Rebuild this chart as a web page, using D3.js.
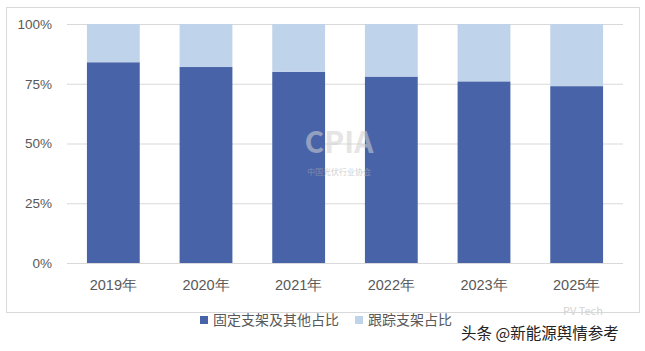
<!DOCTYPE html>
<html>
<head>
<meta charset="utf-8">
<script src="https://cdn.jsdelivr.net/npm/d3@7"></script>
<style>
  body { margin: 0; background: #fff; }
  svg { display: block; font-family: "Noto Sans CJK SC", "Open Sans", sans-serif; }
</style>
</head>
<body>
<svg id="chart" width="645" height="351"></svg>
<script>
    // data
    var years = ["2019年", "2020年", "2021年", "2022年", "2023年", "2025年"];
    var fixedShare = [84, 82, 80, 78, 76, 74];
    var trackerShare = [16, 18, 20, 22, 24, 26];
    var seriesNames = ["固定支架及其他占比", "跟踪支架占比"];
    var yTicks = [0, 25, 50, 75, 100];

    var colors = ["#4863a8", "#bfd3ea"];

    var svg = d3.select("#chart");
    var margin = {left: 67, right: 22, top: 24, bottom: 88};
    var width = 645, height = 351;

    // frame
    svg.append("rect")
        .attr("x", 6.5).attr("y", 7.5)
        .attr("width", 633).attr("height", 305)
        .attr("fill", "none")
        .attr("stroke", "#d9d9d9");

    var x = d3.scaleBand()
        .domain(years)
        .range([margin.left, width - margin.right])
        .paddingInner(0.43)
        .paddingOuter(0.215);

    var y = d3.scaleLinear()
        .domain([0, 100])
        .range([height - margin.bottom, margin.top]);

    // gridlines
    svg.append("g")
        .selectAll("line")
        .data(yTicks)
        .enter().append("line")
        .attr("x1", margin.left)
        .attr("x2", width - margin.right)
        .attr("y1", function (d) { return y(d) + 0.5; })
        .attr("y2", function (d) { return y(d) + 0.5; })
        .attr("stroke", "#d9d9d9");

    // stacked bars
    var rows = years.map(function (yr, i) {
        return {year: yr, fixed: fixedShare[i], tracker: trackerShare[i]};
    });
    var stack = d3.stack().keys(["fixed", "tracker"]);
    var layers = stack(rows);

    svg.append("g")
        .selectAll("g")
        .data(layers)
        .enter().append("g")
        .attr("fill", function (d, i) { return colors[i]; })
        .selectAll("rect")
        .data(function (d) { return d; })
        .enter().append("rect")
        .attr("x", function (d) { return x(d.data.year); })
        .attr("width", x.bandwidth())
        .attr("y", function (d) { return y(d[1]); })
        .attr("height", function (d) { return y(d[0]) - y(d[1]); });

    // y axis labels
    var yAxis = d3.axisLeft(y)
        .tickValues(yTicks)
        .tickSize(0)
        .tickPadding(15)
        .tickFormat(function (d) { return d + "%"; });
    var gy = svg.append("g")
        .attr("transform", "translate(" + margin.left + ",0)")
        .call(yAxis);
    gy.select(".domain").remove();
    gy.selectAll("text")
        .attr("fill", "#595959")
        .style("font-size", "13.5px");

    // x axis labels
    var xAxis = d3.axisBottom(x).tickSize(0).tickPadding(17);
    var gx = svg.append("g")
        .attr("transform", "translate(0," + (height - margin.bottom) + ")")
        .call(xAxis);
    gx.select(".domain").remove();
    gx.selectAll("text")
        .attr("fill", "#595959")
        .style("font-size", "14.5px");

    // legend
    var legendX = [200, 355];
    var legend = svg.append("g")
        .selectAll("g")
        .data(seriesNames)
        .enter().append("g")
        .attr("transform", function (d, i) { return "translate(" + legendX[i] + ",316)"; });
    legend.append("rect")
        .attr("width", 8).attr("height", 8)
        .attr("y", 0)
        .attr("fill", function (d, i) { return colors[i]; });
    legend.append("text")
        .attr("x", 13)
        .attr("y", 9)
        .attr("fill", "#595959")
        .style("font-size", "14px")
        .text(function (d) { return d; });

    // faint CPIA watermark
    svg.append("text")
        .attr("x", 339).attr("y", 153)
        .attr("text-anchor", "middle")
        .attr("fill", "#d0d0d0")
        .attr("opacity", 0.55)
        .style("font-size", "30px")
        .style("font-weight", "bold")
        .text("CPIA");
    svg.append("text")
        .attr("x", 339).attr("y", 175)
        .attr("text-anchor", "middle")
        .attr("fill", "#aaa")
        .attr("opacity", 0.55)
        .style("font-size", "8px")
        .text("中国光伏行业协会");

    // page watermarks
    svg.append("text")
        .attr("x", 563).attr("y", 315)
        .attr("fill", "#d4d4d4")
        .style("font-size", "11px")
        .text("PV Tech");
    svg.append("text")
        .attr("x", 461).attr("y", 339)
        .attr("fill", "#222")
        .style("font-size", "15.5px")
        .text("头条 @新能源舆情参考");
</script>
</body>
</html>
